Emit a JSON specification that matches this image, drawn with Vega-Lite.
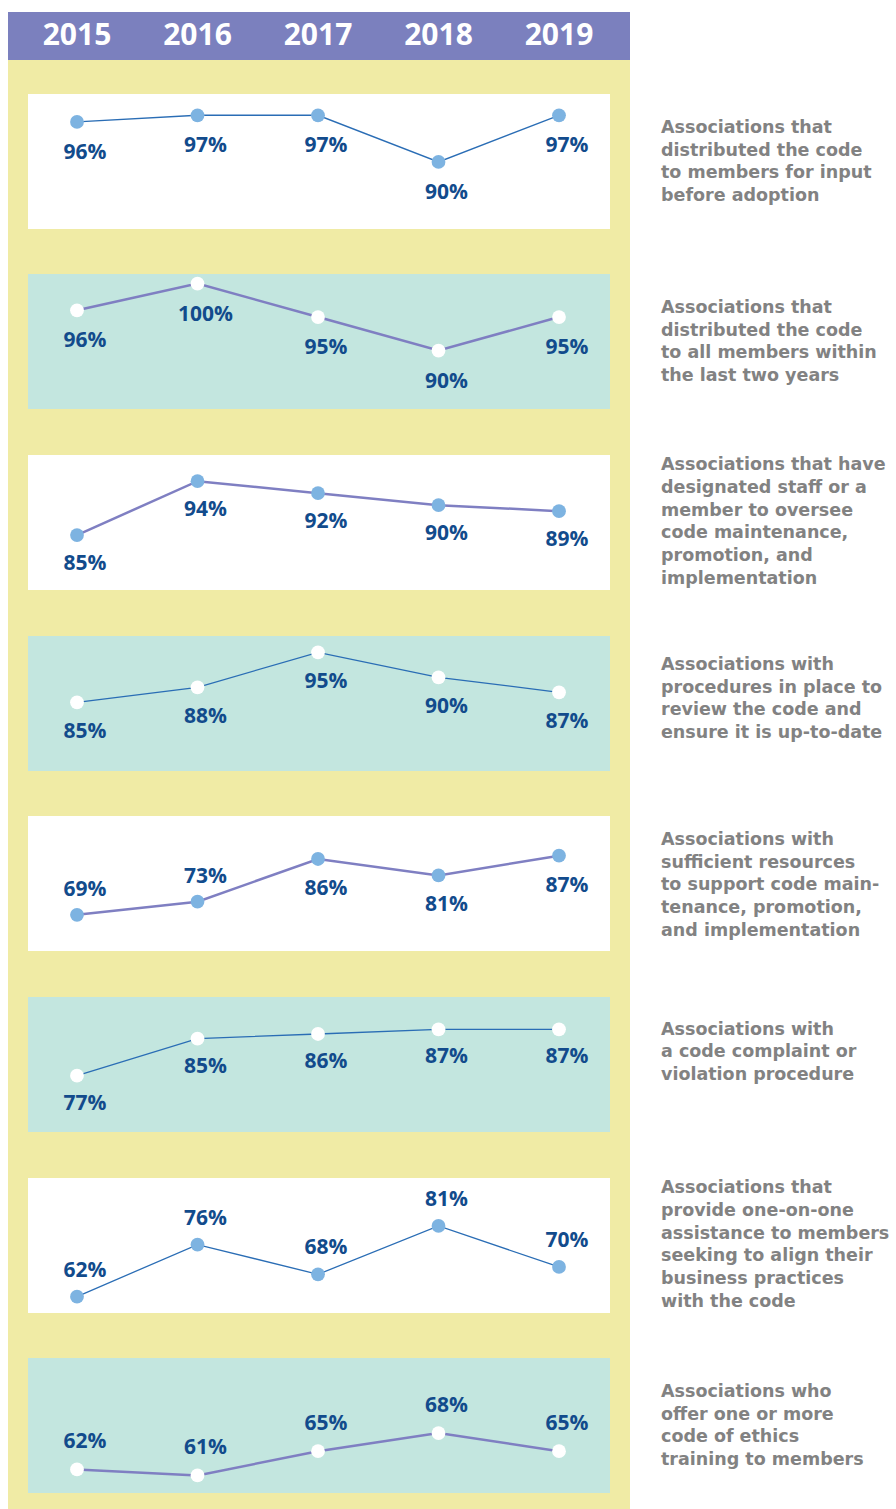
{
  "$schema": "https://vega.github.io/schema/vega-lite/v6.json",
  "padding": {"left": 8, "top": 12, "right": 0, "bottom": 0},
  "autosize": {"type": "pad"},
  "background": "white",
  "bounds": "flush",
  "spacing": 0,
  "config": {
    "view": {"stroke": null},
    "text": {"font": "Open Sans", "fontWeight": "bold"},
    "concat": {"spacing": 0}
  },
  "datasets": {
    "values": [
      {"panel": 1, "year": 2015, "value": 0.96}, {"panel": 1, "year": 2016, "value": 0.97}, {"panel": 1, "year": 2017, "value": 0.97}, {"panel": 1, "year": 2018, "value": 0.90}, {"panel": 1, "year": 2019, "value": 0.97},
      {"panel": 2, "year": 2015, "value": 0.96}, {"panel": 2, "year": 2016, "value": 1.00}, {"panel": 2, "year": 2017, "value": 0.95}, {"panel": 2, "year": 2018, "value": 0.90}, {"panel": 2, "year": 2019, "value": 0.95},
      {"panel": 3, "year": 2015, "value": 0.85}, {"panel": 3, "year": 2016, "value": 0.94}, {"panel": 3, "year": 2017, "value": 0.92}, {"panel": 3, "year": 2018, "value": 0.90}, {"panel": 3, "year": 2019, "value": 0.89},
      {"panel": 4, "year": 2015, "value": 0.85}, {"panel": 4, "year": 2016, "value": 0.88}, {"panel": 4, "year": 2017, "value": 0.95}, {"panel": 4, "year": 2018, "value": 0.90}, {"panel": 4, "year": 2019, "value": 0.87},
      {"panel": 5, "year": 2015, "value": 0.69}, {"panel": 5, "year": 2016, "value": 0.73}, {"panel": 5, "year": 2017, "value": 0.86}, {"panel": 5, "year": 2018, "value": 0.81}, {"panel": 5, "year": 2019, "value": 0.87},
      {"panel": 6, "year": 2015, "value": 0.77}, {"panel": 6, "year": 2016, "value": 0.85}, {"panel": 6, "year": 2017, "value": 0.86}, {"panel": 6, "year": 2018, "value": 0.87}, {"panel": 6, "year": 2019, "value": 0.87},
      {"panel": 7, "year": 2015, "value": 0.62}, {"panel": 7, "year": 2016, "value": 0.76}, {"panel": 7, "year": 2017, "value": 0.68}, {"panel": 7, "year": 2018, "value": 0.81}, {"panel": 7, "year": 2019, "value": 0.70},
      {"panel": 8, "year": 2015, "value": 0.62}, {"panel": 8, "year": 2016, "value": 0.61}, {"panel": 8, "year": 2017, "value": 0.65}, {"panel": 8, "year": 2018, "value": 0.68}, {"panel": 8, "year": 2019, "value": 0.65}
    ],
    "descriptions": [
      {"panel": 1, "text": "Associations that\ndistributed the code\nto members for input\nbefore adoption"},
      {"panel": 2, "text": "Associations that\ndistributed the code\nto all members within\nthe last two years"},
      {"panel": 3, "text": "Associations that have\ndesignated staff or a\nmember to oversee\ncode maintenance,\npromotion, and\nimplementation"},
      {"panel": 4, "text": "Associations with\nprocedures in place to\nreview the code and\nensure it is up-to-date"},
      {"panel": 5, "text": "Associations with\nsufficient resources\nto support code main-\ntenance, promotion,\nand implementation"},
      {"panel": 6, "text": "Associations with\na code complaint or\nviolation procedure"},
      {"panel": 7, "text": "Associations that\nprovide one-on-one\nassistance to members\nseeking to align their\nbusiness practices\nwith the code"},
      {"panel": 8, "text": "Associations who\noffer one or more\ncode of ethics\ntraining to members"}
    ]
  },
  "vconcat": [
    {
      "width": 622, "height": 48,
      "view": {"fill": "#7b80be", "stroke": null},
      "data": {"name": "values"},
      "transform": [{"filter": "datum.panel == 1"}],
      "mark": {"type": "text", "color": "white", "fontSize": 30, "fontWeight": "bold", "baseline": "middle"},
      "encoding": {
        "x": {"field": "year", "type": "quantitative", "scale": {"domain": [2014.4274, 2019.5892], "nice": false, "zero": false}, "axis": null},
        "text": {"field": "year", "type": "nominal"}
      }
    },
    {
      "width": 622, "height": 180,
      "view": {"fill": "#f0eba5", "stroke": null},
      "layer": [
        {"data": {"name": "descriptions"}, "transform": [{"filter": "datum.panel == 1"}],
         "mark": {"type": "rect", "color": "#ffffff"},
         "encoding": {"x": {"datum": 2014.5934, "type": "quantitative", "scale": {"domain": [2014.4274, 2019.5892], "nice": false, "zero": false}, "axis": null}, "x2": {"datum": 2019.4232},
                      "y": {"datum": 1.0019, "type": "quantitative", "scale": {"domain": [0.7830, 1.05286], "nice": false, "zero": false}, "axis": null}, "y2": {"datum": 0.7995}}},
        {"data": {"name": "values"}, "transform": [{"filter": "datum.panel == 1"}],
         "mark": {"type": "line", "color": "#2a6db5", "strokeWidth": 1.3},
         "encoding": {"x": {"field": "year", "type": "quantitative", "scale": {"domain": [2014.4274, 2019.5892], "nice": false, "zero": false}, "axis": null},
                      "y": {"field": "value", "type": "quantitative", "scale": {"domain": [0.7830, 1.05286], "nice": false, "zero": false}, "axis": null}}},
        {"data": {"name": "values"}, "transform": [{"filter": "datum.panel == 1"}],
         "mark": {"type": "circle", "color": "#7db3e1", "size": 190, "opacity": 1},
         "encoding": {"x": {"field": "year", "type": "quantitative", "scale": {"domain": [2014.4274, 2019.5892], "nice": false, "zero": false}, "axis": null},
                      "y": {"field": "value", "type": "quantitative", "scale": {"domain": [0.7830, 1.05286], "nice": false, "zero": false}, "axis": null}}},
        {"data": {"name": "values"}, "transform": [{"filter": "datum.panel == 1"}],
         "mark": {"type": "text", "color": "#124b8c", "fontSize": 21, "dx": 8, "dy": 31, "baseline": "middle"},
         "encoding": {"x": {"field": "year", "type": "quantitative", "scale": {"domain": [2014.4274, 2019.5892], "nice": false, "zero": false}, "axis": null},
                      "y": {"field": "value", "type": "quantitative", "scale": {"domain": [0.7830, 1.05286], "nice": false, "zero": false}, "axis": null},
                      "text": {"field": "value", "type": "quantitative", "format": ".0%"}}},
        {"data": {"name": "descriptions"}, "transform": [{"filter": "datum.panel == 1"}],
         "mark": {"type": "text", "color": "#828282", "font": "DejaVu Sans", "fontSize": 17.5, "lineHeight": 22.7, "lineBreak": "\n", "align": "left", "baseline": "middle", "dy": -34},
         "encoding": {"x": {"datum": 2019.8465, "type": "quantitative", "scale": {"domain": [2014.4274, 2019.5892], "nice": false, "zero": false}, "axis": null},
                      "y": {"datum": 0.8999, "type": "quantitative", "scale": {"domain": [0.7830, 1.05286], "nice": false, "zero": false}, "axis": null},
                      "text": {"field": "text", "type": "nominal"}}}
      ]
    },
    {
      "width": 622, "height": 181,
      "view": {"fill": "#f0eba5", "stroke": null},
      "layer": [
        {"data": {"name": "descriptions"}, "transform": [{"filter": "datum.panel == 2"}],
         "mark": {"type": "rect", "color": "#c3e6df"},
         "encoding": {"x": {"datum": 2014.5934, "type": "quantitative", "scale": {"domain": [2014.4274, 2019.5892], "nice": false, "zero": false}, "axis": null}, "x2": {"datum": 2019.4232},
                      "y": {"datum": 1.0142, "type": "quantitative", "scale": {"domain": [0.7948, 1.06496], "nice": false, "zero": false}, "axis": null}, "y2": {"datum": 0.8127}}},
        {"data": {"name": "values"}, "transform": [{"filter": "datum.panel == 2"}],
         "mark": {"type": "line", "color": "#7f7fc2", "strokeWidth": 2.5},
         "encoding": {"x": {"field": "year", "type": "quantitative", "scale": {"domain": [2014.4274, 2019.5892], "nice": false, "zero": false}, "axis": null},
                      "y": {"field": "value", "type": "quantitative", "scale": {"domain": [0.7948, 1.06496], "nice": false, "zero": false}, "axis": null}}},
        {"data": {"name": "values"}, "transform": [{"filter": "datum.panel == 2"}],
         "mark": {"type": "circle", "color": "#ffffff", "size": 190, "opacity": 1},
         "encoding": {"x": {"field": "year", "type": "quantitative", "scale": {"domain": [2014.4274, 2019.5892], "nice": false, "zero": false}, "axis": null},
                      "y": {"field": "value", "type": "quantitative", "scale": {"domain": [0.7948, 1.06496], "nice": false, "zero": false}, "axis": null}}},
        {"data": {"name": "values"}, "transform": [{"filter": "datum.panel == 2"}],
         "mark": {"type": "text", "color": "#124b8c", "fontSize": 21, "dx": 8, "dy": 31, "baseline": "middle"},
         "encoding": {"x": {"field": "year", "type": "quantitative", "scale": {"domain": [2014.4274, 2019.5892], "nice": false, "zero": false}, "axis": null},
                      "y": {"field": "value", "type": "quantitative", "scale": {"domain": [0.7948, 1.06496], "nice": false, "zero": false}, "axis": null},
                      "text": {"field": "value", "type": "quantitative", "format": ".0%"}}},
        {"data": {"name": "descriptions"}, "transform": [{"filter": "datum.panel == 2"}],
         "mark": {"type": "text", "color": "#828282", "font": "DejaVu Sans", "fontSize": 17.5, "lineHeight": 22.7, "lineBreak": "\n", "align": "left", "baseline": "middle", "dy": -34},
         "encoding": {"x": {"datum": 2019.8465, "type": "quantitative", "scale": {"domain": [2014.4274, 2019.5892], "nice": false, "zero": false}, "axis": null},
                      "y": {"datum": 0.9127, "type": "quantitative", "scale": {"domain": [0.7948, 1.06496], "nice": false, "zero": false}, "axis": null},
                      "text": {"field": "text", "type": "nominal"}}}
      ]
    },
    {
      "width": 622, "height": 181,
      "view": {"fill": "#f0eba5", "stroke": null},
      "layer": [
        {"data": {"name": "descriptions"}, "transform": [{"filter": "datum.panel == 3"}],
         "mark": {"type": "rect", "color": "#ffffff"},
         "encoding": {"x": {"datum": 2014.5934, "type": "quantitative", "scale": {"domain": [2014.4274, 2019.5892], "nice": false, "zero": false}, "axis": null}, "x2": {"datum": 2019.4232},
                      "y": {"datum": 0.9837, "type": "quantitative", "scale": {"domain": [0.7383, 1.04047], "nice": false, "zero": false}, "axis": null}, "y2": {"datum": 0.7583}}},
        {"data": {"name": "values"}, "transform": [{"filter": "datum.panel == 3"}],
         "mark": {"type": "line", "color": "#7f7fc2", "strokeWidth": 2.5},
         "encoding": {"x": {"field": "year", "type": "quantitative", "scale": {"domain": [2014.4274, 2019.5892], "nice": false, "zero": false}, "axis": null},
                      "y": {"field": "value", "type": "quantitative", "scale": {"domain": [0.7383, 1.04047], "nice": false, "zero": false}, "axis": null}}},
        {"data": {"name": "values"}, "transform": [{"filter": "datum.panel == 3"}],
         "mark": {"type": "circle", "color": "#7db3e1", "size": 190, "opacity": 1},
         "encoding": {"x": {"field": "year", "type": "quantitative", "scale": {"domain": [2014.4274, 2019.5892], "nice": false, "zero": false}, "axis": null},
                      "y": {"field": "value", "type": "quantitative", "scale": {"domain": [0.7383, 1.04047], "nice": false, "zero": false}, "axis": null}}},
        {"data": {"name": "values"}, "transform": [{"filter": "datum.panel == 3"}],
         "mark": {"type": "text", "color": "#124b8c", "fontSize": 21, "dx": 8, "dy": 29, "baseline": "middle"},
         "encoding": {"x": {"field": "year", "type": "quantitative", "scale": {"domain": [2014.4274, 2019.5892], "nice": false, "zero": false}, "axis": null},
                      "y": {"field": "value", "type": "quantitative", "scale": {"domain": [0.7383, 1.04047], "nice": false, "zero": false}, "axis": null},
                      "text": {"field": "value", "type": "quantitative", "format": ".0%"}}},
        {"data": {"name": "descriptions"}, "transform": [{"filter": "datum.panel == 3"}],
         "mark": {"type": "text", "color": "#828282", "font": "DejaVu Sans", "fontSize": 17.5, "lineHeight": 22.7, "lineBreak": "\n", "align": "left", "baseline": "middle", "dy": -56.75},
         "encoding": {"x": {"datum": 2019.8465, "type": "quantitative", "scale": {"domain": [2014.4274, 2019.5892], "nice": false, "zero": false}, "axis": null},
                      "y": {"datum": 0.8719, "type": "quantitative", "scale": {"domain": [0.7383, 1.04047], "nice": false, "zero": false}, "axis": null},
                      "text": {"field": "text", "type": "nominal"}}}
      ]
    },
    {
      "width": 622, "height": 180,
      "view": {"fill": "#f0eba5", "stroke": null},
      "layer": [
        {"data": {"name": "descriptions"}, "transform": [{"filter": "datum.panel == 4"}],
         "mark": {"type": "rect", "color": "#c3e6df"},
         "encoding": {"x": {"datum": 2014.5934, "type": "quantitative", "scale": {"domain": [2014.4274, 2019.5892], "nice": false, "zero": false}, "axis": null}, "x2": {"datum": 2019.4232},
                      "y": {"datum": 0.9826, "type": "quantitative", "scale": {"domain": [0.6906, 1.0506], "nice": false, "zero": false}, "axis": null}, "y2": {"datum": 0.7126}}},
        {"data": {"name": "values"}, "transform": [{"filter": "datum.panel == 4"}],
         "mark": {"type": "line", "color": "#2a6db5", "strokeWidth": 1.3},
         "encoding": {"x": {"field": "year", "type": "quantitative", "scale": {"domain": [2014.4274, 2019.5892], "nice": false, "zero": false}, "axis": null},
                      "y": {"field": "value", "type": "quantitative", "scale": {"domain": [0.6906, 1.0506], "nice": false, "zero": false}, "axis": null}}},
        {"data": {"name": "values"}, "transform": [{"filter": "datum.panel == 4"}],
         "mark": {"type": "circle", "color": "#ffffff", "size": 190, "opacity": 1},
         "encoding": {"x": {"field": "year", "type": "quantitative", "scale": {"domain": [2014.4274, 2019.5892], "nice": false, "zero": false}, "axis": null},
                      "y": {"field": "value", "type": "quantitative", "scale": {"domain": [0.6906, 1.0506], "nice": false, "zero": false}, "axis": null}}},
        {"data": {"name": "values"}, "transform": [{"filter": "datum.panel == 4"}],
         "mark": {"type": "text", "color": "#124b8c", "fontSize": 21, "dx": 8, "dy": 30, "baseline": "middle"},
         "encoding": {"x": {"field": "year", "type": "quantitative", "scale": {"domain": [2014.4274, 2019.5892], "nice": false, "zero": false}, "axis": null},
                      "y": {"field": "value", "type": "quantitative", "scale": {"domain": [0.6906, 1.0506], "nice": false, "zero": false}, "axis": null},
                      "text": {"field": "value", "type": "quantitative", "format": ".0%"}}},
        {"data": {"name": "descriptions"}, "transform": [{"filter": "datum.panel == 4"}],
         "mark": {"type": "text", "color": "#828282", "font": "DejaVu Sans", "fontSize": 17.5, "lineHeight": 22.7, "lineBreak": "\n", "align": "left", "baseline": "middle", "dy": -34},
         "encoding": {"x": {"datum": 2019.8465, "type": "quantitative", "scale": {"domain": [2014.4274, 2019.5892], "nice": false, "zero": false}, "axis": null},
                      "y": {"datum": 0.8566, "type": "quantitative", "scale": {"domain": [0.6906, 1.0506], "nice": false, "zero": false}, "axis": null},
                      "text": {"field": "text", "type": "nominal"}}}
      ]
    },
    {
      "width": 622, "height": 181,
      "view": {"fill": "#f0eba5", "stroke": null},
      "layer": [
        {"data": {"name": "descriptions"}, "transform": [{"filter": "datum.panel == 5"}],
         "mark": {"type": "rect", "color": "#ffffff"},
         "encoding": {"x": {"datum": 2014.5934, "type": "quantitative", "scale": {"domain": [2014.4274, 2019.5892], "nice": false, "zero": false}, "axis": null}, "x2": {"datum": 2019.4232},
                      "y": {"datum": 0.9909, "type": "quantitative", "scale": {"domain": [0.5433, 1.0944], "nice": false, "zero": false}, "axis": null}, "y2": {"datum": 0.5798}}},
        {"data": {"name": "values"}, "transform": [{"filter": "datum.panel == 5"}],
         "mark": {"type": "line", "color": "#7f7fc2", "strokeWidth": 2.5},
         "encoding": {"x": {"field": "year", "type": "quantitative", "scale": {"domain": [2014.4274, 2019.5892], "nice": false, "zero": false}, "axis": null},
                      "y": {"field": "value", "type": "quantitative", "scale": {"domain": [0.5433, 1.0944], "nice": false, "zero": false}, "axis": null}}},
        {"data": {"name": "values"}, "transform": [{"filter": "datum.panel == 5"}],
         "mark": {"type": "circle", "color": "#7db3e1", "size": 190, "opacity": 1},
         "encoding": {"x": {"field": "year", "type": "quantitative", "scale": {"domain": [2014.4274, 2019.5892], "nice": false, "zero": false}, "axis": null},
                      "y": {"field": "value", "type": "quantitative", "scale": {"domain": [0.5433, 1.0944], "nice": false, "zero": false}, "axis": null}}},
        {"data": {"name": "values"}, "transform": [{"filter": "datum.panel == 5 && datum.year >= 2017"}],
         "mark": {"type": "text", "color": "#124b8c", "fontSize": 21, "dx": 8, "dy": 30, "baseline": "middle"},
         "encoding": {"x": {"field": "year", "type": "quantitative", "scale": {"domain": [2014.4274, 2019.5892], "nice": false, "zero": false}, "axis": null},
                      "y": {"field": "value", "type": "quantitative", "scale": {"domain": [0.5433, 1.0944], "nice": false, "zero": false}, "axis": null},
                      "text": {"field": "value", "type": "quantitative", "format": ".0%"}}},
        {"data": {"name": "values"}, "transform": [{"filter": "datum.panel == 5 && datum.year <= 2016"}],
         "mark": {"type": "text", "color": "#124b8c", "fontSize": 21, "dx": 8, "dy": -25, "baseline": "middle"},
         "encoding": {"x": {"field": "year", "type": "quantitative", "scale": {"domain": [2014.4274, 2019.5892], "nice": false, "zero": false}, "axis": null},
                      "y": {"field": "value", "type": "quantitative", "scale": {"domain": [0.5433, 1.0944], "nice": false, "zero": false}, "axis": null},
                      "text": {"field": "value", "type": "quantitative", "format": ".0%"}}},
        {"data": {"name": "descriptions"}, "transform": [{"filter": "datum.panel == 5"}],
         "mark": {"type": "text", "color": "#828282", "font": "DejaVu Sans", "fontSize": 17.5, "lineHeight": 22.7, "lineBreak": "\n", "align": "left", "baseline": "middle", "dy": -45.4},
         "encoding": {"x": {"datum": 2019.8465, "type": "quantitative", "scale": {"domain": [2014.4274, 2019.5892], "nice": false, "zero": false}, "axis": null},
                      "y": {"datum": 0.7793, "type": "quantitative", "scale": {"domain": [0.5433, 1.0944], "nice": false, "zero": false}, "axis": null},
                      "text": {"field": "text", "type": "nominal"}}}
      ]
    },
    {
      "width": 622, "height": 181,
      "view": {"fill": "#f0eba5", "stroke": null},
      "layer": [
        {"data": {"name": "descriptions"}, "transform": [{"filter": "datum.panel == 6"}],
         "mark": {"type": "rect", "color": "#c3e6df"},
         "encoding": {"x": {"datum": 2014.5934, "type": "quantitative", "scale": {"domain": [2014.4274, 2019.5892], "nice": false, "zero": false}, "axis": null}, "x2": {"datum": 2019.4232},
                      "y": {"datum": 0.9399, "type": "quantitative", "scale": {"domain": [0.6224, 1.0133], "nice": false, "zero": false}, "axis": null}, "y2": {"datum": 0.6483}}},
        {"data": {"name": "values"}, "transform": [{"filter": "datum.panel == 6"}],
         "mark": {"type": "line", "color": "#2a6db5", "strokeWidth": 1.3},
         "encoding": {"x": {"field": "year", "type": "quantitative", "scale": {"domain": [2014.4274, 2019.5892], "nice": false, "zero": false}, "axis": null},
                      "y": {"field": "value", "type": "quantitative", "scale": {"domain": [0.6224, 1.0133], "nice": false, "zero": false}, "axis": null}}},
        {"data": {"name": "values"}, "transform": [{"filter": "datum.panel == 6"}],
         "mark": {"type": "circle", "color": "#ffffff", "size": 190, "opacity": 1},
         "encoding": {"x": {"field": "year", "type": "quantitative", "scale": {"domain": [2014.4274, 2019.5892], "nice": false, "zero": false}, "axis": null},
                      "y": {"field": "value", "type": "quantitative", "scale": {"domain": [0.6224, 1.0133], "nice": false, "zero": false}, "axis": null}}},
        {"data": {"name": "values"}, "transform": [{"filter": "datum.panel == 6"}],
         "mark": {"type": "text", "color": "#124b8c", "fontSize": 21, "dx": 8, "dy": 28, "baseline": "middle"},
         "encoding": {"x": {"field": "year", "type": "quantitative", "scale": {"domain": [2014.4274, 2019.5892], "nice": false, "zero": false}, "axis": null},
                      "y": {"field": "value", "type": "quantitative", "scale": {"domain": [0.6224, 1.0133], "nice": false, "zero": false}, "axis": null},
                      "text": {"field": "value", "type": "quantitative", "format": ".0%"}}},
        {"data": {"name": "descriptions"}, "transform": [{"filter": "datum.panel == 6"}],
         "mark": {"type": "text", "color": "#828282", "font": "DejaVu Sans", "fontSize": 17.5, "lineHeight": 22.7, "lineBreak": "\n", "align": "left", "baseline": "middle", "dy": -22.7},
         "encoding": {"x": {"datum": 2019.8465, "type": "quantitative", "scale": {"domain": [2014.4274, 2019.5892], "nice": false, "zero": false}, "axis": null},
                      "y": {"datum": 0.8200, "type": "quantitative", "scale": {"domain": [0.6224, 1.0133], "nice": false, "zero": false}, "axis": null},
                      "text": {"field": "text", "type": "nominal"}}}
      ]
    },
    {
      "width": 622, "height": 180,
      "view": {"fill": "#f0eba5", "stroke": null},
      "layer": [
        {"data": {"name": "descriptions"}, "transform": [{"filter": "datum.panel == 7"}],
         "mark": {"type": "rect", "color": "#ffffff"},
         "encoding": {"x": {"datum": 2014.5934, "type": "quantitative", "scale": {"domain": [2014.4274, 2019.5892], "nice": false, "zero": false}, "axis": null}, "x2": {"datum": 2019.4232},
                      "y": {"datum": 0.9390, "type": "quantitative", "scale": {"domain": [0.5464, 1.0304], "nice": false, "zero": false}, "axis": null}, "y2": {"datum": 0.5760}}},
        {"data": {"name": "values"}, "transform": [{"filter": "datum.panel == 7"}],
         "mark": {"type": "line", "color": "#2a6db5", "strokeWidth": 1.3},
         "encoding": {"x": {"field": "year", "type": "quantitative", "scale": {"domain": [2014.4274, 2019.5892], "nice": false, "zero": false}, "axis": null},
                      "y": {"field": "value", "type": "quantitative", "scale": {"domain": [0.5464, 1.0304], "nice": false, "zero": false}, "axis": null}}},
        {"data": {"name": "values"}, "transform": [{"filter": "datum.panel == 7"}],
         "mark": {"type": "circle", "color": "#7db3e1", "size": 190, "opacity": 1},
         "encoding": {"x": {"field": "year", "type": "quantitative", "scale": {"domain": [2014.4274, 2019.5892], "nice": false, "zero": false}, "axis": null},
                      "y": {"field": "value", "type": "quantitative", "scale": {"domain": [0.5464, 1.0304], "nice": false, "zero": false}, "axis": null}}},
        {"data": {"name": "values"}, "transform": [{"filter": "datum.panel == 7"}],
         "mark": {"type": "text", "color": "#124b8c", "fontSize": 21, "dx": 8, "dy": -26, "baseline": "middle"},
         "encoding": {"x": {"field": "year", "type": "quantitative", "scale": {"domain": [2014.4274, 2019.5892], "nice": false, "zero": false}, "axis": null},
                      "y": {"field": "value", "type": "quantitative", "scale": {"domain": [0.5464, 1.0304], "nice": false, "zero": false}, "axis": null},
                      "text": {"field": "value", "type": "quantitative", "format": ".0%"}}},
        {"data": {"name": "descriptions"}, "transform": [{"filter": "datum.panel == 7"}],
         "mark": {"type": "text", "color": "#828282", "font": "DejaVu Sans", "fontSize": 17.5, "lineHeight": 22.7, "lineBreak": "\n", "align": "left", "baseline": "middle", "dy": -56.75},
         "encoding": {"x": {"datum": 2019.8465, "type": "quantitative", "scale": {"domain": [2014.4274, 2019.5892], "nice": false, "zero": false}, "axis": null},
                      "y": {"datum": 0.7589, "type": "quantitative", "scale": {"domain": [0.5464, 1.0304], "nice": false, "zero": false}, "axis": null},
                      "text": {"field": "text", "type": "nominal"}}}
      ]
    },
    {
      "width": 622, "height": 185,
      "view": {"fill": "#f0eba5", "stroke": null},
      "layer": [
        {"data": {"name": "descriptions"}, "transform": [{"filter": "datum.panel == 8"}],
         "mark": {"type": "rect", "color": "#c3e6df"},
         "encoding": {"x": {"datum": 2014.5934, "type": "quantitative", "scale": {"domain": [2014.4274, 2019.5892], "nice": false, "zero": false}, "axis": null}, "x2": {"datum": 2019.4232},
                      "y": {"datum": 0.8039, "type": "quantitative", "scale": {"domain": [0.5546, 0.8601], "nice": false, "zero": false}, "axis": null}, "y2": {"datum": 0.5810}}},
        {"data": {"name": "values"}, "transform": [{"filter": "datum.panel == 8"}],
         "mark": {"type": "line", "color": "#7f7fc2", "strokeWidth": 2.5},
         "encoding": {"x": {"field": "year", "type": "quantitative", "scale": {"domain": [2014.4274, 2019.5892], "nice": false, "zero": false}, "axis": null},
                      "y": {"field": "value", "type": "quantitative", "scale": {"domain": [0.5546, 0.8601], "nice": false, "zero": false}, "axis": null}}},
        {"data": {"name": "values"}, "transform": [{"filter": "datum.panel == 8"}],
         "mark": {"type": "circle", "color": "#ffffff", "size": 190, "opacity": 1},
         "encoding": {"x": {"field": "year", "type": "quantitative", "scale": {"domain": [2014.4274, 2019.5892], "nice": false, "zero": false}, "axis": null},
                      "y": {"field": "value", "type": "quantitative", "scale": {"domain": [0.5546, 0.8601], "nice": false, "zero": false}, "axis": null}}},
        {"data": {"name": "values"}, "transform": [{"filter": "datum.panel == 8"}],
         "mark": {"type": "text", "color": "#124b8c", "fontSize": 21, "dx": 8, "dy": -27, "baseline": "middle"},
         "encoding": {"x": {"field": "year", "type": "quantitative", "scale": {"domain": [2014.4274, 2019.5892], "nice": false, "zero": false}, "axis": null},
                      "y": {"field": "value", "type": "quantitative", "scale": {"domain": [0.5546, 0.8601], "nice": false, "zero": false}, "axis": null},
                      "text": {"field": "value", "type": "quantitative", "format": ".0%"}}},
        {"data": {"name": "descriptions"}, "transform": [{"filter": "datum.panel == 8"}],
         "mark": {"type": "text", "color": "#828282", "font": "DejaVu Sans", "fontSize": 17.5, "lineHeight": 22.7, "lineBreak": "\n", "align": "left", "baseline": "middle", "dy": -34},
         "encoding": {"x": {"datum": 2019.8465, "type": "quantitative", "scale": {"domain": [2014.4274, 2019.5892], "nice": false, "zero": false}, "axis": null},
                      "y": {"datum": 0.6916, "type": "quantitative", "scale": {"domain": [0.5546, 0.8601], "nice": false, "zero": false}, "axis": null},
                      "text": {"field": "text", "type": "nominal"}}}
      ]
    }
  ]
}
